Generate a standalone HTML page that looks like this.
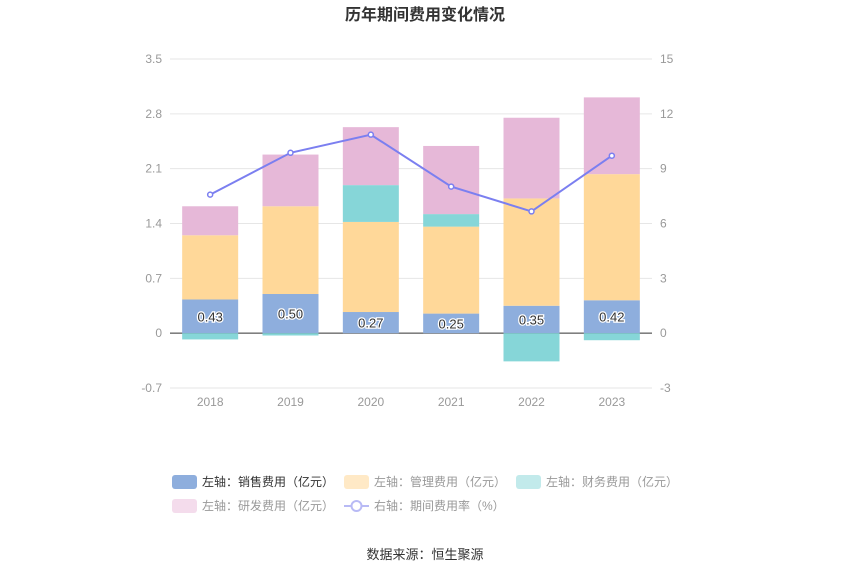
<!DOCTYPE html>
<html><head><meta charset="utf-8"><style>
body{margin:0;background:#fff;font-family:"Liberation Sans","Noto Sans CJK SC",sans-serif;}
</style></head><body>
<svg id="c" width="850" height="575" xmlns="http://www.w3.org/2000/svg" style="font-family:'Liberation Sans','Noto Sans CJK SC',sans-serif">
<text x="425" y="20" text-anchor="middle" font-size="16" font-weight="bold" fill="#333">历年期间费用变化情况</text>
<g id="grid"></g><g id="bars"></g><g id="line"></g><g id="axes"></g>
<g id="legend" font-size="12"></g>
<text x="425" y="559" text-anchor="middle" font-size="13" fill="#333">数据来源：恒生聚源</text>
</svg>
<script>
const categories=["2018","2019","2020","2021","2022","2023"];
const sales=[0.43,0.50,0.27,0.25,0.35,0.42];
const mgmt=[0.82,1.12,1.15,1.11,1.37,1.61];
const finance=[-0.08,-0.03,0.47,0.16,-0.36,-0.09];
const rnd=[0.37,0.66,0.74,0.87,1.03,0.98];
const rate=[7.58,9.87,10.86,8.02,6.66,9.71];
const leftTicks=["-0.7","0","0.7","1.4","2.1","2.8","3.5"];
const rightTicks=["-3","0","3","6","9","12","15"];
const NS="http://www.w3.org/2000/svg";
const L=170,R=652,T=59,B=388;
const yL=v=>B-(v+0.7)/4.2*(B-T);
const yR=v=>B-(v+3)/18*(B-T);
const band=(R-L)/categories.length;
const xC=i=>L+band*(i+0.5);
function mk(tag,attrs,parent,text){const e=document.createElementNS(NS,tag);for(const k in attrs)e.setAttribute(k,attrs[k]);if(text!==undefined)e.textContent=text;document.getElementById(parent).appendChild(e);return e;}
leftTicks.forEach((t,i)=>{const v=parseFloat(t);const y=yL(v);
 const g=mk('line',{x1:L,x2:R,y1:y,y2:y,stroke:v===0?'#333':'#e6e6e6','stroke-width':1},'grid');
 
 const a=mk('text',{x:L-8,y:y+4,'text-anchor':'end','font-size':12,fill:'#999'},'axes',t);
 
 const b=mk('text',{x:R+8,y:yR(parseFloat(rightTicks[i]))+4,'font-size':12,fill:'#999'},'axes',rightTicks[i]);
 });
const bw=56;
const series=[[sales,'#8eaedd','sales'],[mgmt,'#ffd899','mgmt'],[finance,'#86d6d8','finance'],[rnd,'#e6b8d8','rnd']];
categories.forEach((c,i)=>{let pos=0,neg=0;const x=xC(i)-bw/2;
 series.forEach(([arr,col,nm])=>{const v=arr[i];let y0,y1;
  if(v>=0){y0=pos;y1=pos+v;pos=y1;}else{y0=neg;y1=neg+v;neg=y1;}
  const r=mk('rect',{x:x,y:Math.min(yL(y0),yL(y1)),width:bw,height:Math.abs(yL(y0)-yL(y1)),fill:col},'bars');
  });
 const lb=mk('text',{x:xC(i),y:yL(sales[i]/2)+5,'text-anchor':'middle','font-size':13,fill:'#333',stroke:'#fff','stroke-width':2.5,'paint-order':'stroke'},'bars',sales[i].toFixed(2));
 
 const xl=mk('text',{x:xC(i),y:B+18,'text-anchor':'middle','font-size':12,fill:'#999'},'axes',c);
 });
const pts=rate.map((v,i)=>xC(i)+','+yR(v)).join(' ');
const pl=mk('polyline',{points:pts,fill:'none',stroke:'#7b7ff0','stroke-width':2},'line');

rate.forEach((v,i)=>{const p=mk('circle',{cx:xC(i),cy:yR(v),r:2.5,fill:'#fff',stroke:'#7b7ff0','stroke-width':1.5},'line');
 });
const leg=[[172,482,'#8eaedd','左轴：销售费用（亿元）','#333'],[344,482,'#ffe9c6','左轴：管理费用（亿元）','#999'],[516,482,'#c2eaeb','左轴：财务费用（亿元）','#999'],[172,506,'#f4dcec','左轴：研发费用（亿元）','#999']];
leg.forEach(([x,y,col,t,tc])=>{const r=mk('rect',{x:x,y:y-7,width:25,height:14,rx:3,fill:col},'legend');
 
 const tx=mk('text',{x:x+30,y:y+4,fill:tc},'legend',t);
 });
const ll=mk('line',{x1:344,x2:369,y1:506,y2:506,stroke:'#b8baf5','stroke-width':2},'legend');

const lc=mk('circle',{cx:356.5,cy:506,r:5,fill:'#fff',stroke:'#b8baf5','stroke-width':2},'legend');

const lt=mk('text',{x:374,y:510,fill:'#999'},'legend','右轴：期间费用率（%）');

</script>
</body></html>
